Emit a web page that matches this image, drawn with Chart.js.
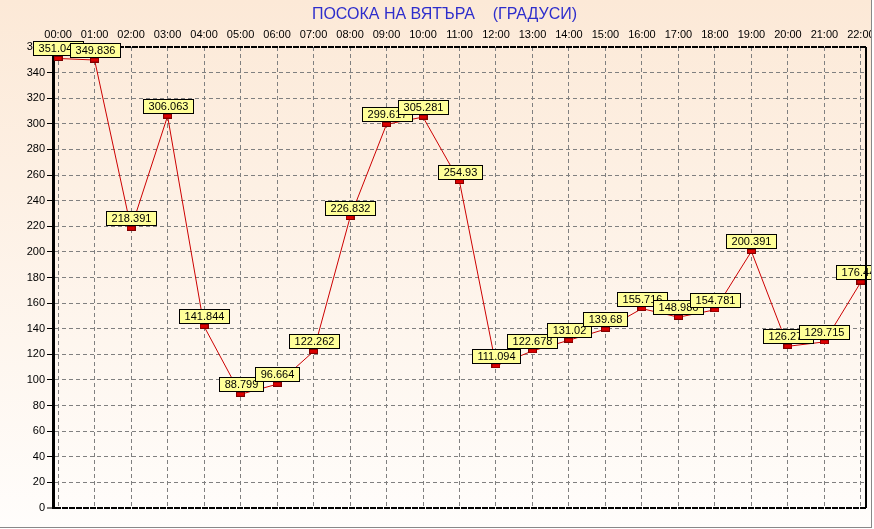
<!DOCTYPE html>
<html>
<head>
<meta charset="utf-8">
<script src="https://cdn.jsdelivr.net/npm/chart.js@4"></script>
<style>
  body { margin: 0; background: #fff; }
  #wrap {
    width: 871px; height: 527px;
    border-right: 1px solid #888; border-bottom: 1px solid #888;
  }
  #myChart { display: block; background: linear-gradient(#fce9d7, #fffdfb); }
</style>
</head>
<body>
<div id="wrap"><canvas id="myChart" width="871" height="527"></canvas></div>
<script>
const title = "ПОСОКА НА ВЯТЪРА    (ГРАДУСИ)";
const hours = ["00:00","01:00","02:00","03:00","04:00","05:00","06:00","07:00","08:00","09:00","10:00","11:00",
               "12:00","13:00","14:00","15:00","16:00","17:00","18:00","19:00","20:00","21:00","22:00"];
const direction = [351.042, 349.836, 218.391, 306.063, 141.844, 88.799, 96.664, 122.262, 226.832, 299.617, 305.281, 254.93,
                   111.094, 122.678, 131.02, 139.68, 155.716, 148.986, 154.781, 200.391, 126.276, 129.715, 176.449];
const yMin = 0, yMax = 360, yStep = 20;

// small red marker used as point style
const marker = document.createElement("canvas");
marker.width = 9; marker.height = 5;
(function(){
    const m = marker.getContext("2d");
    m.fillStyle = "#800000";
    m.fillRect(0, 0, 9, 5);
    m.fillStyle = "#dd0000";
    m.fillRect(1, 1, 7, 3);
})();

const titlePlugin = {
    id: "titleText",
    beforeDraw(chart){
        const ctx = chart.ctx;
        ctx.save();
        ctx.font = "16px 'Liberation Sans', Arial, sans-serif";
        ctx.fillStyle = "#2e2ecc";
        ctx.textAlign = "center";
        ctx.textBaseline = "middle";
        ctx.fillText(title, chart.width / 2 + 9, 15);
        ctx.restore();
    }
};

const framePlugin = {
    id: "frame",
    afterDraw(chart){
        const a = chart.chartArea, ctx = chart.ctx;
        ctx.save();
        ctx.strokeStyle = "#000";
        ctx.lineWidth = 2;
        ctx.beginPath();
        ctx.moveTo(a.right, a.top);
        ctx.lineTo(a.right, a.bottom);
        ctx.stroke();
        ctx.restore();
    }
};

const labelPlugin = {
    id: "valueBoxes",
    afterDatasetsDraw(chart){
        const ctx = chart.ctx;
        const pts = chart.getDatasetMeta(0).data;
        ctx.save();
        ctx.font = "11px 'Liberation Sans', Arial, sans-serif";
        ctx.textAlign = "center";
        ctx.textBaseline = "middle";
        pts.forEach((p, i) => {
            const txt = String(direction[i]);
            const w = Math.round(ctx.measureText(txt).width) + 10;
            const h = 14;
            const x = Math.round(p.x - w / 2) + 0.5;
            const y = Math.round(p.y - 3 - h) + 0.5;
            ctx.fillStyle = "#ffff99";
            ctx.fillRect(x, y, w, h);
            ctx.strokeStyle = "#000";
            ctx.lineWidth = 1;
            ctx.strokeRect(x, y, w, h);
            ctx.fillStyle = "#000";
            ctx.fillText(txt, x + w / 2, y + h / 2 + 0.5);
        });
        ctx.restore();
    }
};

const ctx = document.getElementById("myChart").getContext("2d");
const myChart = new Chart(ctx, {
    type: "line",
    data: {
        datasets: [{
            data: direction.map((v, i) => ({x: i, y: v})),
            borderColor: "#cc0000",
            borderWidth: 1,
            pointStyle: marker,
            pointRadius: 4,
            tension: 0,
            clip: false,
        }],
    },
    options: {
        responsive: false,
        animation: false,
        layout: { padding: { left: 0, right: 5, top: 0, bottom: 19 } },
        plugins: { legend: { display: false }, tooltip: { enabled: false } },
        scales: {
            x: {
                type: "linear",
                position: "top",
                min: -0.14,
                max: 22.14,
                afterFit: s => { s.height = 47; s.paddingLeft = 0; s.paddingRight = 0; },
                afterBuildTicks: s => { s.ticks = hours.map((h, i) => ({value: i})); },
                ticks: {
                    autoSkip: false,
                    maxRotation: 0,
                    padding: 5,
                    color: "#000",
                    font: { family: "'Liberation Sans', Arial, sans-serif", size: 11 },
                    callback: v => hours[v],
                },
                grid: { color: "#808080", lineWidth: 1, drawTicks: false },
                border: { display: false, dash: [4, 3] },
            },
            y: {
                min: yMin,
                max: yMax,
                afterFit: s => { s.width = 53; s.paddingTop = 0; s.paddingBottom = 0; },
                ticks: {
                    stepSize: yStep,
                    padding: 2,
                    color: "#000",
                    font: { family: "'Liberation Sans', Arial, sans-serif", size: 11 },
                },
                grid: {
                    color: c => (c.tick && (c.tick.value === yMin || c.tick.value === yMax)) ? "#000" : "#808080",
                    lineWidth: c => (c.tick && (c.tick.value === yMin || c.tick.value === yMax)) ? 2 : 1,
                    tickLength: 6,
                    tickColor: "#000",
                    tickWidth: 1,
                    tickBorderDash: [],
                },
                border: {
                    display: true,
                    color: "#000",
                    width: 3,
                    dash: c => (c.tick && (c.tick.value === yMin || c.tick.value === yMax)) ? [6, 1] : [4, 3],
                },
            },
        },
    },
    plugins: [titlePlugin, framePlugin, labelPlugin],
});
</script>
</body>
</html>
